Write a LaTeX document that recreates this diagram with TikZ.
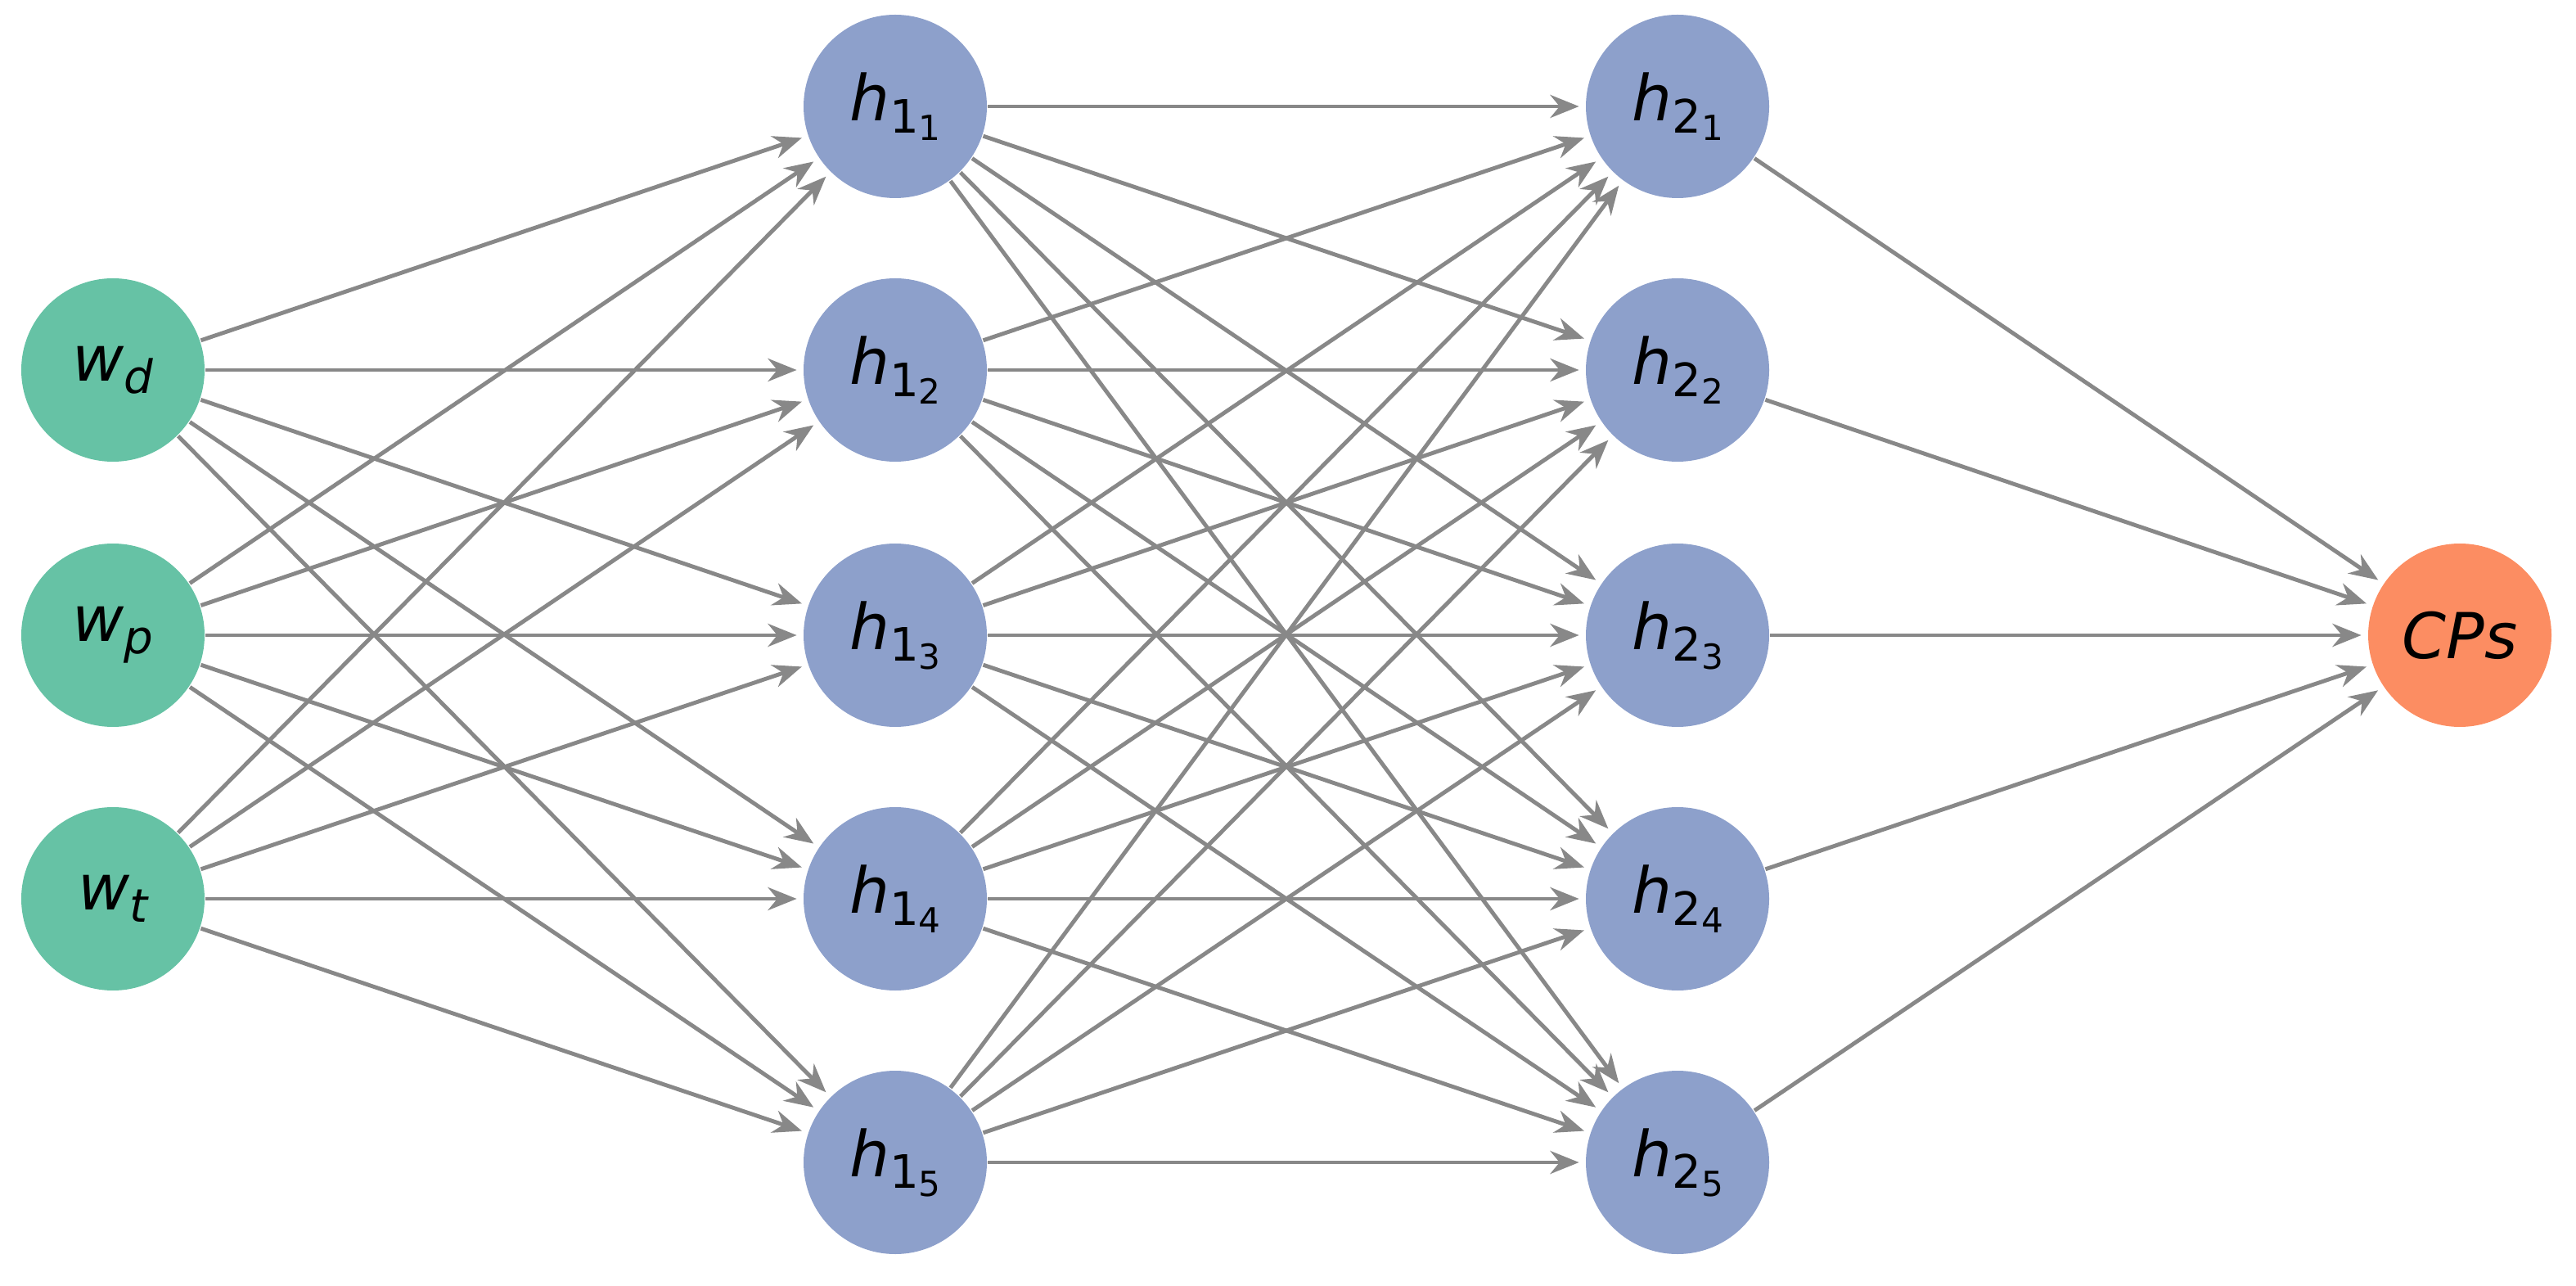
\documentclass[tikz,border=0pt]{standalone}
\usepackage{fontspec}
\setmainfont{DejaVu Sans}
\usetikzlibrary{arrows.meta}
\definecolor{gin}{HTML}{66C2A5}
\definecolor{ghid}{HTML}{8DA0CB}
\definecolor{gout}{HTML}{FC8D62}
\definecolor{edge}{HTML}{888888}
\newcommand{\hl}[2]{{\itshape h}\raisebox{-0.35ex}{\fontsize{8}{9}\selectfont #1\raisebox{-0.3ex}{\fontsize{6}{7}\selectfont #2}}}
\begin{document}
\begin{tikzpicture}[
  nd/.style={circle,minimum size=1.12cm,inner sep=0pt,font=\fontsize{11}{13}\selectfont},
  inp/.style={nd,fill=gin},
  hid/.style={nd,fill=ghid},
  outp/.style={nd,fill=gout},
  con/.style={draw=edge,line width=0.7pt,-{Stealth[length=5pt,width=4pt]},shorten >=1pt}]
\useasboundingbox (0,0) rectangle (15.74,7.85);
\node[inp] (i1) at (0.69,5.59) {{\itshape w}\raisebox{-0.35ex}{\fontsize{8}{9}\selectfont\itshape d}};
\node[inp] (i2) at (0.69,3.97) {{\itshape w}\raisebox{-0.35ex}{\fontsize{8}{9}\selectfont\itshape p}};
\node[inp] (i3) at (0.69,2.36) {{\itshape w}\raisebox{-0.35ex}{\fontsize{8}{9}\selectfont\itshape t}};
\foreach \i/\y in {1/7.20,2/5.59,3/3.97,4/2.36,5/0.75}{
  \node[hid] (a\i) at (5.47,\y) {\hl{1}{\i}};
  \node[hid] (b\i) at (10.25,\y) {\hl{2}{\i}};
}
\node[outp] (o) at (15.03,3.97) {\itshape CPs};
\foreach \s in {i1,i2,i3}{\foreach \t in {1,...,5}{\draw[con] (\s) -- (a\t);}}
\foreach \s in {1,...,5}{\foreach \t in {1,...,5}{\draw[con] (a\s) -- (b\t);}}
\foreach \s in {1,...,5}{\draw[con] (b\s) -- (o);}
\end{tikzpicture}
\end{document}
